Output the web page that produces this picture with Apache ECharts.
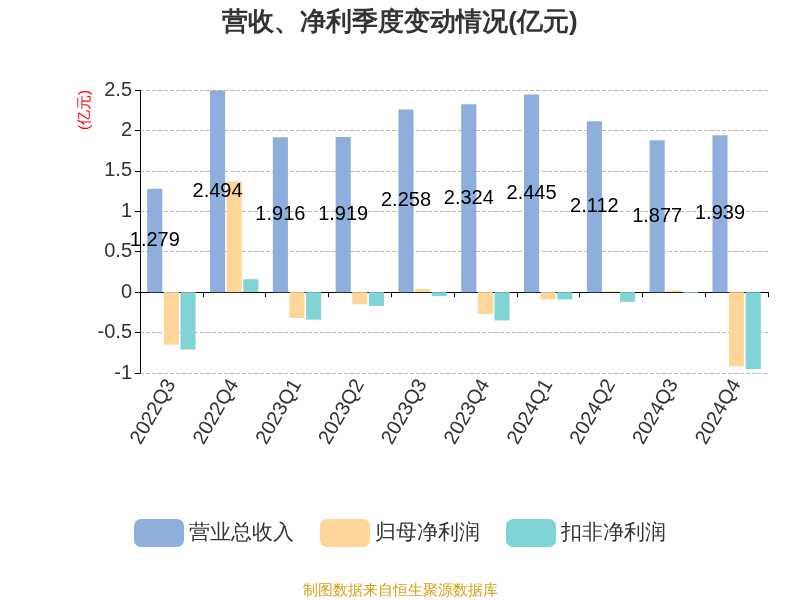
<!DOCTYPE html><html><head><meta charset="utf-8"><script src="https://cdn.jsdelivr.net/npm/echarts@6/dist/echarts.min.js"></script></head><body style="margin:0"><div id="c" style="width:800px;height:600px"></div><script>
const categories=['2022Q3','2022Q4','2023Q1','2023Q2','2023Q3','2023Q4','2024Q1','2024Q2','2024Q3','2024Q4'];
const revenue=[1.279,2.494,1.916,1.919,2.258,2.324,2.445,2.112,1.877,1.939];
const netProfit=[-0.65,1.37,-0.32,-0.15,0.04,-0.27,-0.09,0.01,0.02,-0.92];
const deducted=[-0.71,0.16,-0.34,-0.17,-0.05,-0.35,-0.09,-0.12,-0.01,-0.95];
const yTicks=[-1,-0.5,0,0.5,1,1.5,2,2.5];
const c=echarts.init(document.getElementById('c'));
c.setOption({
title:[{text:'营收、净利季度变动情况(亿元)',left:'center',top:5,textStyle:{fontSize:26,fontWeight:'bold',color:'#333'}},
{text:'制图数据来自恒生聚源数据库',left:'center',top:578,textStyle:{fontSize:15,fontWeight:'normal',color:'#d4a017'}}],
legend:{bottom:48,itemWidth:50,itemHeight:28,itemGap:26,textStyle:{fontSize:21,color:'#333'},data:['营业总收入','归母净利润','扣非净利润']},
grid:{left:140,right:32,top:90,bottom:227},
xAxis:{type:'category',data:categories,axisLabel:{rotate:60,fontSize:20,color:'#333',interval:0},axisLine:{onZero:true,lineStyle:{color:'#000'}},axisTick:{show:true,lineStyle:{color:'#000'}}},
yAxis:{type:'value',min:-1,max:2.5,interval:0.5,name:'(亿元)',nameLocation:'end',nameRotate:90,nameGap:0,
nameTextStyle:{color:'red',fontSize:15,align:'right',verticalAlign:'bottom',padding:[0,0,48,0]},
axisLabel:{fontSize:20,color:'#333',formatter:v=>yTicks.includes(v)?String(v):''},
axisLine:{show:true,lineStyle:{color:'#000'}},axisTick:{show:true},splitLine:{lineStyle:{type:'dashed',color:'#bbb'}}},
series:[
{name:'营业总收入',type:'bar',data:revenue,itemStyle:{color:'#8eaedb'},barGap:'10%',label:{show:true,position:'inside',color:'#000',fontSize:20}},
{name:'归母净利润',type:'bar',data:netProfit,itemStyle:{color:'#ffd699'}},
{name:'扣非净利润',type:'bar',data:deducted,itemStyle:{color:'#80d4d6'}}]
});
</script></body></html>
